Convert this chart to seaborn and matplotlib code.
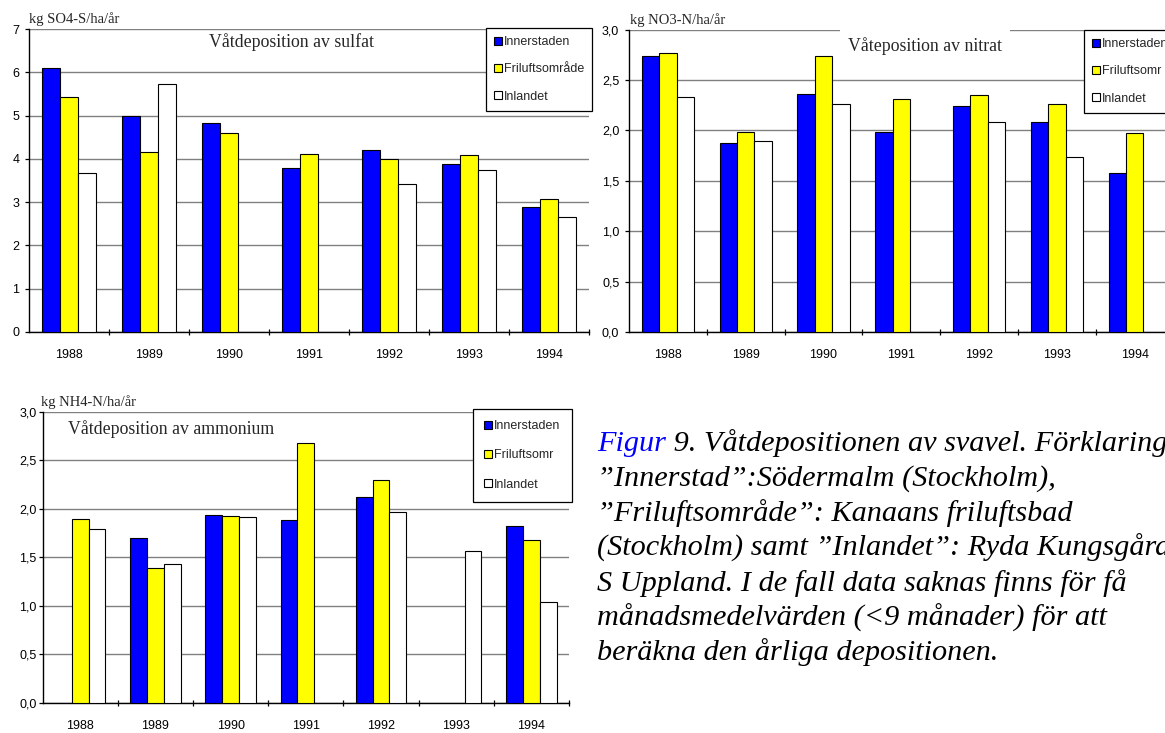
import numpy as np
import pandas as pd
import matplotlib
matplotlib.use("Agg")
import matplotlib.pyplot as plt
from matplotlib.patches import Patch
import seaborn as sns

# ---- data -----------------------------------------------------------------
years = ["1988", "1989", "1990", "1991", "1992", "1993", "1994"]
stations = ["Innerstaden", "Friluftsområde", "Inlandet"]
station_colors = ["#0000FF", "#FFFF00", "#FFFFFF"]

sulfat_innerstaden = [6.11, 4.99, 4.83, 3.78, 4.21, 3.88, 2.89]
sulfat_friluft = [5.44, 4.15, 4.60, 4.12, 4.00, 4.09, 3.08]
sulfat_inlandet = [3.67, 5.74, np.nan, np.nan, 3.43, 3.74, 2.66]

nitrat_innerstaden = [2.74, 1.88, 2.36, 1.98, 2.24, 2.08, 1.58]
nitrat_friluft = [2.77, 1.98, 2.74, 2.31, 2.35, 2.26, 1.97]
nitrat_inlandet = [2.33, 1.90, 2.26, np.nan, 2.08, 1.74, np.nan]

ammonium_innerstaden = [np.nan, 1.70, 1.94, 1.88, 2.12, np.nan, 1.82]
ammonium_friluft = [1.89, 1.39, 1.93, 2.68, 2.30, np.nan, 1.68]
ammonium_inlandet = [1.79, 1.43, 1.92, np.nan, 1.97, 1.57, 1.04]

sulfat_ticks = [0, 1, 2, 3, 4, 5, 6, 7]
sulfat_ticklabels = ["0", "1", "2", "3", "4", "5", "6", "7"]
kvave_ticks = [0.0, 0.5, 1.0, 1.5, 2.0, 2.5, 3.0]
kvave_ticklabels = ["0,0", "0,5", "1,0", "1,5", "2,0", "2,5", "3,0"]

legend_long = ["Innerstaden", "Friluftsområde", "Inlandet"]
legend_short = ["Innerstaden", "Friluftsomr", "Inlandet"]

caption_lines = [
    "”Innerstad”:Södermalm (Stockholm),",
    "”Friluftsområde”: Kanaans friluftsbad",
    "(Stockholm) samt ”Inlandet”: Ryda Kungsgård,",
    "S Uppland. I de fall data saknas finns för få",
    "månadsmedelvärden (<9 månader) för att",
    "beräkna den årliga depositionen.",
]

# ---- style ----------------------------------------------------------------
sns.set_style("white")
plt.rcParams["font.family"] = ["Liberation Sans", "DejaVu Sans"]
SERIF = ["Liberation Serif", "DejaVu Serif"]

W, H = 1165, 733
fig = plt.figure(figsize=(W / 100, H / 100), dpi=100)
palette = dict(zip(stations, station_colors))


def long_frame(a, b, c):
    df = pd.DataFrame({
        "year": years * 3,
        "station": [stations[0]] * 7 + [stations[1]] * 7 + [stations[2]] * 7,
        "value": list(a) + list(b) + list(c),
    })
    return df.dropna()


def px(x, y):
    return x / W, 1 - y / H


def panel(rect_px, df, yticks, yticklabels, unit, unit_px, title, title_xy,
          legend_labels, legend_px, labelspacing, borderpad,
          title_box=False, ypad=3):
    x0, y0, x1, y1 = rect_px
    ax = fig.add_axes([x0 / W, 1 - y1 / H, (x1 - x0) / W, (y1 - y0) / H])
    sns.barplot(data=df, x="year", y="value", hue="station",
                order=years, hue_order=stations, palette=palette,
                saturation=1, width=0.67, edgecolor="black", linewidth=0.8,
                errorbar=None, legend=False, ax=ax, zorder=3)
    ax.set_xlim(-0.5, len(years) - 0.5)
    ax.set_ylim(yticks[0], yticks[-1])
    ax.set_yticks(yticks, yticklabels)
    ax.set_xticks(range(len(years)), years)
    ax.set_xticks(np.arange(0.5, len(years), 1.0), minor=True)
    ax.set_xlabel("")
    ax.set_ylabel("")
    ax.tick_params(axis="x", which="major", length=0, pad=12, labelsize=9,
                   colors="black")
    ax.tick_params(axis="x", which="minor", length=4.5, width=0.9,
                   direction="inout", bottom=True, color="black")
    ax.tick_params(axis="y", length=3, width=0.9, direction="out", left=True,
                   pad=ypad, labelsize=9, colors="black")
    ax.yaxis.grid(True, color="#808080", linewidth=1.0)
    ax.set_axisbelow(True)
    for side in ("top", "right"):
        ax.spines[side].set_visible(False)
    for side in ("left", "bottom"):
        ax.spines[side].set_color("black")
        ax.spines[side].set_linewidth(1.0)

    fig.text(*px(*unit_px), unit, family=SERIF, fontsize=10.5,
             ha="left", va="center")

    kw = {}
    if title_box:
        kw["bbox"] = dict(boxstyle="square,pad=0.45", facecolor="white",
                          edgecolor="none")
    ax.text(*title_xy, title, family=SERIF, fontsize=12.8, ha="center",
            va="center", zorder=4, **kw)

    handles = [Patch(facecolor=c, edgecolor="black", linewidth=0.8)
               for c in station_colors]
    leg = ax.legend(handles, legend_labels, loc="upper left",
                    bbox_to_anchor=px(*legend_px),
                    bbox_transform=fig.transFigure, borderaxespad=0,
                    fontsize=9, handlelength=0.65, handleheight=0.65,
                    handletextpad=0.12, labelspacing=labelspacing,
                    borderpad=borderpad, fancybox=False, shadow=False,
                    framealpha=1, edgecolor="black")
    leg.get_frame().set_linewidth(0.9)
    leg.set_zorder(5)
    return ax


ax1 = panel((29, 29, 589, 332),
            long_frame(sulfat_innerstaden, sulfat_friluft, sulfat_inlandet),
            sulfat_ticks, sulfat_ticklabels,
            "kg SO4-S/ha/år", (29, 19),
            "Våtdeposition av sulfat", (2.78, 6.70),
            legend_long, (486, 28), 1.22, 0.65, ypad=4)

ax2 = panel((629, 29.7, 629 + 7 * 77.8, 332),
            long_frame(nitrat_innerstaden, nitrat_friluft, nitrat_inlandet),
            kvave_ticks, kvave_ticklabels,
            "kg NO3-N/ha/år", (630, 20),
            "Våteposition av nitrat", (3.30, 2.84),
            legend_short, (1084, 30), 1.22, 0.65, title_box=True, ypad=4)

ax3 = panel((42.7, 411.7, 569, 703),
            long_frame(ammonium_innerstaden, ammonium_friluft, ammonium_inlandet),
            kvave_ticks, kvave_ticklabels,
            "kg NH4-N/ha/år", (41, 402),
            "Våtdeposition av ammonium", (1.21, 2.82),
            legend_short, (473, 409), 1.37, 0.9, ypad=1.5)

# ---- caption --------------------------------------------------------------
cap_kw = dict(family=SERIF, style="italic", fontsize=21.8)
cap_x = 597
first_baseline = 451
step = 34.9
t0 = fig.text(*px(cap_x, first_baseline), "Figur", color="#0000FF",
              ha="left", va="baseline", **cap_kw)
ax3.annotate(" 9. Våtdepositionen av svavel. Förklaring:", xy=(1, 0),
             xycoords=t0, ha="left", va="bottom", color="black",
             annotation_clip=False, **cap_kw)
for i, line in enumerate(caption_lines, start=1):
    fig.text(*px(cap_x, first_baseline + i * step), line, color="black",
             ha="left", va="baseline", **cap_kw)

fig.savefig("out.png", dpi=100)
